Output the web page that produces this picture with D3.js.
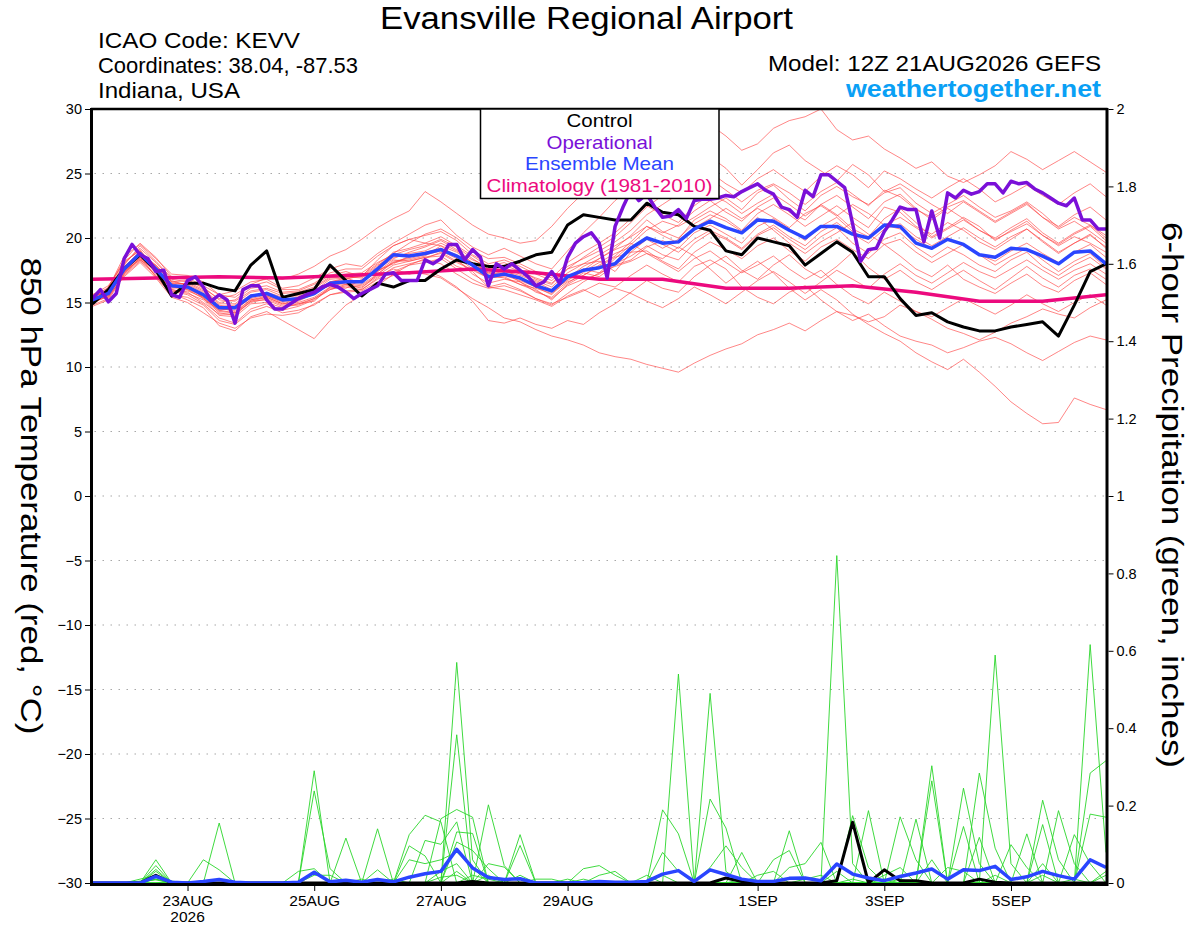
<!DOCTYPE html>
<html><head><meta charset="utf-8">
<script src="https://cdn.jsdelivr.net/npm/d3@7"></script>
<style>body{margin:0;background:#fff}svg{display:block;font-family:"Liberation Sans",Arial,Helvetica,sans-serif}</style>
</head><body><svg id="c" width="1200" height="927"></svg>
<script>
// ---------------- DATA ----------------
const startTimeUTC = Date.UTC(2026, 7, 21, 12); // 12Z 21AUG2026
const stepHours = 6;      // ensemble / control / mean step
const opStepHours = 3;    // operational step
const climStepHours = 24; // climatology step

const tempTicks = [-30,-25,-20,-15,-10,-5,0,5,10,15,20,25,30];
const precipTicks = [0,0.2,0.4,0.6,0.8,1,1.2,1.4,1.6,1.8,2];
const precipTickLabels = ["0","0.2","0.4","0.6","0.8","1","1.2","1.4","1.6","1.8","2"];
const dateTickDays = ["2026-08-23","2026-08-25","2026-08-27","2026-08-29","2026-09-01","2026-09-03","2026-09-05"];
const dateTickLabels = ["23AUG","25AUG","27AUG","29AUG","1SEP","3SEP","5SEP"];

const controlTemp = [
 14.9,16.0,17.6,18.7,17.5,15.5,16.5,16.5,16.1,15.9,17.9,19.0,15.4,
 15.7,16.0,17.9,16.7,15.5,16.5,16.2,16.7,16.7,17.6,18.3,18.0,17.8,
 17.8,18.2,18.7,18.9,21.0,21.8,21.6,21.4,21.4,22.7,22.0,21.8,20.9,
 20.6,19.0,18.7,20.0,19.7,19.4,17.9,18.8,19.7,18.9,17.0,17.0,15.3,
 14.0,14.2,13.5,13.1,12.8,12.8,13.1,13.3,13.5,12.4,14.8,17.4,18.0];

const meanTemp = [
 15.2,15.7,17.6,18.8,17.6,16.3,16.2,15.6,14.6,14.6,15.5,15.7,15.2,
 15.3,15.7,16.5,16.6,16.6,17.6,18.7,18.6,18.8,19.1,18.6,17.9,17.0,
 17.2,16.9,16.3,15.9,17.0,17.5,17.7,18.0,19.2,20.0,19.6,19.7,20.7,
 21.3,20.8,20.4,21.4,21.3,20.6,20.0,20.9,20.9,20.3,20.0,21.0,20.9,
 19.6,19.2,19.9,19.5,18.7,18.5,19.2,19.1,18.6,18.0,18.9,19.0,18.0];

// operational, 3-hourly
const operationalTemp = [
 15.3,16.0,15.05,15.7,18.4,19.5,18.7,18.4,17.4,17.5,15.6,15.4,16.7,17.0,16.2,15.1,
 15.6,15.2,13.4,16.0,16.3,16.3,15.2,14.5,14.5,14.9,15.3,15.6,15.8,16.2,16.4,16.2,
 15.8,15.3,15.7,16.0,16.3,17.2,17.3,16.7,16.7,16.7,18.3,18.0,18.4,19.5,19.5,18.3,
 19.1,18.5,16.3,18.0,17.6,18.0,17.5,17.0,16.3,16.6,17.4,16.5,18.5,19.6,20.1,20.4,
 19.6,16.9,20.9,22.4,23.7,22.9,23.4,22.4,21.6,21.7,22.2,21.5,22.9,23.0,23.0,23.1,
 23.3,23.2,23.6,23.9,24.2,23.7,23.4,22.4,22.2,21.6,23.7,23.2,24.9,24.9,24.4,23.9,
 21.1,18.2,19.1,19.2,20.5,21.4,22.4,22.2,22.2,19.7,22.1,20.0,23.5,23.1,23.7,23.4,
 23.6,24.2,24.2,23.5,24.4,24.2,24.3,23.8,23.5,23.1,22.7,22.5,23.1,21.4,21.4,20.7,
 20.7];

// climatology (1981-2010), daily
const climTemp = [16.8,16.9,17.0,16.9,17.1,17.3,17.6,17.3,16.8,16.8,16.1,16.1,16.3,15.8,15.1,15.1,15.6];

const memberTemp = [
 [15.0,15.9,17.9,19.4,18.2,16.9,16.8,16.1,15.3,15.6,16.4,16.9,16.8,
  17.2,17.8,18.6,19.1,19.9,20.8,21.5,22.1,23.6,22.8,21.9,21.0,20.3,
  20.0,19.6,19.8,20.9,22.3,23.5,24.6,25.8,26.9,27.6,27.0,26.1,27.4,
  28.8,27.9,26.8,27.3,28.5,29.1,29.4,30.0,28.4,27.6,27.9,26.9,26.2,
  25.4,25.9,24.8,24.3,24.9,25.6,26.7,26.1,25.3,26.0,26.7,25.9,25.1],
 [15.4,15.5,17.0,18.1,16.9,15.4,15.0,14.2,13.4,13.0,13.8,14.1,14.0,
  14.2,14.9,15.6,15.8,15.9,16.6,17.1,17.4,17.2,16.9,16.1,15.3,14.6,
  13.8,13.5,12.9,12.4,12.1,11.7,11.1,10.8,10.6,10.2,9.9,9.6,10.3,
  10.9,11.4,11.8,12.5,12.9,13.4,12.8,13.6,14.3,14.0,13.5,13.9,14.8,
  14.3,13.7,13.0,12.6,12.1,12.7,13.4,13.9,14.5,14.1,13.8,14.6,15.2],
 [14.8,15.3,17.2,18.5,17.9,16.6,16.4,15.3,14.2,14.0,15.1,15.2,14.7,
  14.8,15.3,16.0,16.4,16.1,17.2,18.1,18.3,18.6,19.4,18.9,18.1,17.3,
  17.6,16.8,16.2,15.6,16.9,17.8,18.4,19.1,19.6,18.8,18.4,19.3,18.6,
  17.6,16.5,17.4,18.2,17.3,16.1,15.2,16.0,15.2,14.1,13.3,12.6,12.0,
  11.1,10.4,9.8,10.6,9.6,8.5,7.3,6.4,5.6,5.7,7.6,7.1,6.7],
 [15.6,16.1,18.2,19.0,17.4,16.0,15.7,15.2,14.0,13.9,14.9,15.0,14.6,
  14.9,15.1,16.2,16.1,16.8,17.4,18.3,18.2,18.5,18.6,17.8,17.4,16.2,
  16.5,16.0,15.3,14.9,15.4,15.9,16.5,16.2,17.1,17.9,17.2,16.6,17.8,
  18.3,17.6,16.2,15.4,14.9,15.8,16.3,15.2,14.3,13.6,14.1,13.2,12.4,
  12.0,11.7,11.1,11.5,12.0,12.3,11.8,11.1,10.5,11.2,11.9,12.4,12.1],
 [15.1,15.4,17.5,18.6,17.0,15.7,15.2,14.6,13.2,12.8,13.9,14.3,13.6,
  12.9,12.2,13.6,14.8,15.6,16.3,17.2,17.9,18.4,18.9,18.2,17.5,17.9,
  17.3,16.6,16.0,15.2,16.4,17.1,17.9,18.6,19.7,20.9,20.4,21.0,22.1,
  22.9,22.0,21.3,22.4,23.1,22.0,21.4,22.6,21.8,20.7,20.1,21.5,22.3,
  21.2,20.1,20.8,21.6,20.9,19.8,20.6,21.3,20.2,19.4,20.1,19.6,18.9],
 [15.3,16.0,18.0,19.2,18.1,16.8,16.6,16.0,15.0,15.2,16.1,16.3,15.8,
  15.9,16.4,17.1,17.4,17.0,18.3,19.4,19.9,19.6,20.1,19.4,18.6,17.8,
  18.1,17.5,16.8,16.4,17.6,18.0,18.2,17.4,18.9,19.9,19.2,19.9,21.4,
  22.1,21.5,20.6,21.9,22.6,21.8,20.9,21.7,22.5,21.6,20.8,22.4,22.0,
  20.9,20.3,21.2,20.6,19.7,19.1,19.9,20.7,19.8,18.9,19.6,20.2,19.3],
 [14.9,15.6,17.3,18.4,17.7,16.5,16.4,15.8,14.8,14.5,15.3,15.6,15.1,
  15.4,15.9,16.8,16.9,16.5,17.6,18.4,18.9,19.3,19.8,19.1,18.0,17.2,
  17.4,17.1,16.6,16.0,17.0,17.6,17.3,18.4,19.5,20.6,21.3,20.9,21.6,
  22.4,23.1,22.2,23.5,24.1,23.0,22.1,23.3,24.0,23.2,22.6,23.5,23.9,
  22.7,21.9,22.6,23.3,22.4,21.6,22.1,22.8,21.9,20.8,21.6,21.0,20.2],
 [15.5,15.8,17.4,18.3,17.2,15.9,15.6,14.9,13.8,13.4,14.5,14.9,14.4,
  14.7,15.2,16.0,16.3,16.2,17.0,17.6,17.2,17.5,17.0,16.2,15.1,13.6,
  13.4,13.8,13.3,13.0,13.6,13.3,14.2,14.9,15.8,16.7,16.1,15.8,17.0,
  17.9,18.6,17.5,16.8,17.9,18.7,17.6,16.9,17.8,18.9,17.7,16.8,17.5,
  16.6,16.0,16.8,17.5,16.7,16.0,16.9,17.8,16.9,16.2,17.1,17.6,16.8],
 [15.2,16.2,18.3,19.6,18.5,17.0,16.9,16.3,15.6,15.9,16.6,16.8,16.1,
  16.3,16.9,17.6,18.0,17.8,18.8,19.6,20.3,21.0,21.4,20.2,19.3,18.7,
  19.2,18.6,18.0,17.6,19.0,20.4,21.6,22.9,23.9,24.8,25.9,26.6,25.8,
  25.1,24.2,23.5,24.6,25.3,24.4,23.6,24.8,25.6,24.9,23.9,25.2,24.6,
  23.8,23.1,23.9,24.6,23.8,22.8,23.4,24.1,23.3,22.6,23.5,24.2,23.2],
 [15.0,15.5,17.7,19.0,17.8,16.2,16.0,15.5,14.5,14.4,15.4,15.8,15.4,
  15.6,16.1,16.9,17.0,16.9,17.8,18.9,19.2,19.6,19.4,18.5,17.6,16.9,
  17.0,16.4,15.9,15.3,16.3,16.8,17.2,18.0,18.6,19.4,18.7,18.3,19.6,
  20.4,19.9,19.1,20.2,20.8,19.9,19.1,20.1,20.8,19.6,18.8,19.9,20.4,
  19.3,18.5,19.3,18.7,17.9,17.4,18.3,18.9,17.8,17.1,17.9,18.5,17.6],
 [15.4,16.0,17.8,18.6,17.3,16.1,16.2,15.4,14.3,14.2,15.2,15.4,14.9,
  15.0,15.4,16.2,16.6,16.7,17.5,18.0,18.6,18.8,19.2,18.6,17.8,17.3,
  17.2,16.9,16.4,15.9,16.7,17.5,18.4,19.2,20.2,21.4,20.5,20.0,21.1,
  21.8,21.3,20.5,21.6,20.6,19.6,18.8,19.7,20.4,21.2,20.3,19.5,18.6,
  17.6,17.0,17.9,16.8,16.2,15.7,16.5,17.2,16.3,15.8,16.7,17.3,16.4],
 [15.1,15.8,17.6,18.9,17.6,16.4,16.5,15.9,14.9,14.9,15.8,16.0,15.5,
  15.5,15.9,16.6,16.9,17.0,17.9,18.5,18.8,19.0,19.6,19.0,18.3,17.8,
  17.9,17.4,16.9,16.5,17.6,18.5,19.3,20.1,21.2,22.4,23.3,24.6,25.5,
  26.3,25.4,24.1,25.3,26.6,27.2,26.0,25.2,24.4,25.7,24.9,23.6,24.2,
  23.4,22.6,21.9,22.8,22.0,21.2,21.9,22.6,21.6,20.7,21.3,20.5,19.6],
 [15.3,15.6,17.3,18.7,17.8,16.7,16.3,15.7,14.7,14.8,15.6,15.5,15.0,
  15.2,15.6,16.4,16.5,16.4,17.2,18.2,18.4,18.7,19.0,18.4,17.2,16.5,
  16.8,16.6,15.8,15.4,16.5,17.3,17.0,17.9,18.3,19.3,19.8,19.2,20.4,
  21.0,20.3,19.6,20.9,21.5,20.7,19.8,20.9,21.6,20.5,19.9,21.0,20.7,
  19.9,19.2,20.0,19.4,18.7,18.2,19.0,19.6,18.8,18.1,18.9,19.5,18.5],
 [14.7,15.2,17.1,18.2,17.1,15.8,15.9,15.4,14.4,14.2,15.0,15.3,14.8,
  14.9,15.3,16.1,16.2,16.0,16.8,17.4,17.9,18.1,18.4,17.6,16.8,16.2,
  16.0,15.6,15.2,14.7,15.5,16.0,15.4,16.1,15.7,15.1,14.6,15.3,16.2,
  15.6,14.9,15.8,16.7,17.4,16.6,15.7,16.6,17.5,16.8,16.1,17.2,18.0,
  17.1,16.5,17.3,18.1,17.4,16.9,17.6,18.3,17.5,16.8,17.5,18.0,17.2],
 [15.6,16.3,18.1,19.1,17.5,16.0,15.8,15.0,14.1,14.1,15.1,15.4,14.9,
  15.1,15.7,16.6,16.8,17.1,18.0,18.8,19.6,20.3,20.7,20.0,19.0,18.4,
  18.5,18.0,17.4,16.9,18.1,18.9,19.6,20.4,21.5,22.5,21.8,21.2,22.5,
  23.4,22.8,21.9,22.7,23.4,22.6,21.7,22.6,23.3,22.4,21.5,22.8,23.4,
  22.3,21.4,22.3,21.5,20.6,20.0,20.8,21.5,20.4,19.6,20.4,21.0,20.0],
 [15.2,15.6,17.5,18.5,17.4,16.2,16.1,15.5,14.6,14.3,15.2,15.5,15.1,
  15.3,15.8,16.5,16.7,16.6,17.4,18.1,18.5,18.9,19.2,18.7,17.9,17.1,
  16.9,16.4,16.1,15.7,16.6,17.1,17.8,18.5,18.9,19.0,18.2,17.6,18.9,
  19.7,19.1,18.4,19.4,20.0,19.0,18.2,19.3,19.9,19.1,18.4,19.5,19.9,
  18.9,18.1,18.8,19.5,18.7,17.9,18.6,19.2,18.3,17.4,18.2,18.8,17.7],
 [14.9,16.1,18.6,19.5,18.4,17.2,17.1,16.6,15.6,15.4,16.3,16.6,16.0,
  16.0,16.5,17.3,17.6,17.6,18.6,19.4,19.9,20.2,20.5,19.8,18.7,18.0,
  18.3,17.8,17.2,16.7,17.8,18.4,19.0,19.7,20.6,21.8,22.6,23.4,24.0,
  24.6,23.7,22.8,23.7,24.2,23.5,22.6,23.6,24.3,23.4,22.5,23.7,23.2,
  22.2,21.6,22.4,22.9,22.1,21.3,22.0,22.7,21.6,20.9,21.8,22.4,21.4],
 [15.5,15.9,17.4,18.4,17.0,15.6,15.4,14.8,13.6,13.3,14.3,14.7,14.2,
  14.4,14.8,15.6,15.9,16.0,16.9,17.7,18.0,18.3,18.0,17.2,16.5,16.1,
  16.3,15.9,15.3,14.8,15.7,16.6,17.3,17.8,18.2,18.8,18.1,17.4,18.4,
  19.0,18.1,17.3,17.9,18.6,17.6,16.8,17.5,16.4,15.5,14.9,15.8,15.1,
  14.3,13.9,14.6,15.3,14.7,14.1,14.8,15.6,14.9,14.3,15.0,15.6,14.8],
 [15.0,15.7,17.8,18.9,17.9,16.6,16.7,16.2,15.2,15.1,15.9,16.1,15.7,
  15.8,16.2,17.0,17.2,17.3,18.1,18.7,19.1,19.4,19.9,19.3,18.4,17.6,
  17.7,17.2,16.7,16.2,17.3,18.0,18.7,19.4,20.1,20.9,20.2,19.6,20.8,
  21.5,22.3,21.5,22.3,21.6,20.8,21.9,22.5,21.7,22.6,21.9,21.0,21.6,
  20.8,20.0,20.7,21.4,20.6,19.9,20.5,21.1,20.2,19.5,20.3,20.9,19.8],
 [15.3,15.4,17.2,18.3,17.6,16.5,16.0,15.3,14.4,14.6,15.5,15.6,15.2,
  15.4,15.8,16.3,16.4,16.3,17.1,17.9,18.2,18.5,18.8,18.1,17.5,16.9,
  17.1,16.7,16.2,15.8,16.8,17.4,18.1,18.8,19.3,20.1,19.5,18.9,19.9,
  20.6,20.0,19.2,20.3,21.0,20.1,19.4,20.5,21.2,20.3,19.6,20.7,21.1,
  20.1,19.4,20.1,20.8,20.0,19.3,20.1,20.7,19.7,18.8,19.6,20.3,19.2]
];

const controlPrecip = [
 0,0,0,0,0.02,0,0,0,0,0,0,0,0,
 0,0,0,0,0,0,0,0,0,0,0,0.004,0,
 0,0,0,0,0,0,0,0,0,0,0,0,0,
 0,0.013,0.004,0,0,0,0,0,0.006,0.157,0,0.034,0.006,
 0.006,0,0,0,0.010,0.002,0,0,0,0,0,0,0];

const meanPrecip = [
 0,0,0,0,0.017,0.002,0,0.004,0.009,0.002,0,0,0,
 0.002,0.028,0.003,0.007,0.002,0.009,0.003,0.015,0.024,0.030,0.087,0.039,0.014,
 0.009,0.011,0,0,0,0.001,0.004,0.002,0.002,0.004,0.023,0.032,0.004,
 0.034,0.022,0.010,0.004,0.004,0.012,0.013,0.006,0.049,0.023,0.013,0.006,0.017,
 0.026,0.036,0.010,0.034,0.032,0.043,0.009,0.016,0.030,0.019,0.010,0.060,0.040];

const memberPrecip = [
 [0,0,0,0,.06,0,0,0,0,0,0,0,0,
  0,.29,0,0,0,0,0,0,0,0,.57,.06,0,
  0,0,0,0,0,0,0,0,0,0,0,.54,0,
  0,0,0,0,0,0,0,0,.03,0,0,0,0,
  0,.06,0,0,0,0,0,0,0,0,0,.616,.079],
 [0,0,0,0,.045,0,0,0,0,0,0,0,0,
  0,.238,.037,0,0,0,0,0,0,0,.383,0,0,
  0,0,0,0,0,0,0,0,0,0,0,0,0,
  .49,.03,0,0,0,0,0,0,0,0,0,0,0,
  0,0,0,0,0,.589,.05,0,0,0,0,0,0],
 [0,0,0,0,.035,0,0,0,.155,0,0,0,0,
  0,0,0,0,0,0,0,0,0,.166,.19,.17,0,
  0,0,0,0,0,0,0,0,0,0,0,0,0,
  0,0,0,0,0,0,0,0,.846,.05,0,0,0,
  0,0,0,0,0,0,0,0,.05,0,0,.284,.316],
 [0,0,0,0,.03,0,0,.06,.034,0,0,0,0,
  0,0,0,0,0,0,0,.125,.175,.158,0,0,.202,
  .045,0,0,0,0,0,0,0,0,0,.189,.127,0,
  0,0,0,0,0,0,0,0,0,0,0,0,0,
  0,.303,0,0,0,0,0,0,0,0,0,0,0],
 [0,0,0,0,.02,0,0,0,0,0,0,0,0,
  0,0,0,.116,0,0,0,0,.11,.10,.158,0,0,
  0,0,0,0,0,0,0,0,0,0,0,0,0,
  .217,.142,0,0,0,0,0,0,0,0,0,0,0,
  0,0,0,.245,.05,0,0,0,0,0,0,.178,.17],
 [0,0,0,0,.015,0,0,0,0,0,0,0,0,
  .03,.037,0,0,0,.14,0,0,0,0,.132,.128,0,
  0,.125,0,0,0,0,0,0,0,0,0,0,0,
  0,0,0,0,0,.135,0,0,0,.174,.04,0,0,
  0,0,0,0,0,0,0,0,.214,.06,0,0,0],
 [0,0,0,0,.01,0,0,0,0,0,0,0,0,
  0,0,0,0,0,.034,0,.096,.07,0,.106,.084,.037,
  0,.097,0,0,0,0,0,0,0,0,.079,.03,0,
  0,0,0,0,0,0,0,0,0,0,.187,0,0,
  0,.264,0,0,.284,.09,0,0,0,0,0,0,0],
 [0,0,0,.01,.02,0,0,0,0,0,0,0,0,
  0,0,0,0,0,0,0,.06,.05,.06,.08,.04,0,
  0,0,0,0,0,.037,.045,.02,0,0,0,0,0,
  0,0,.079,0,0,0,0,0,0,0,0,0,.171,
  .06,0,0,.146,0,0,0,0,.151,0,0,0,0],
 [0,0,0,0,0,0,0,0,0,0,0,0,0,
  0,.02,.02,0,0,0,0,0,0,.03,.05,0,.05,
  .041,0,0,0,0,0,.02,.03,0,0,0,0,0,
  0,0,0,0,.06,.084,0,0,0,0,0,0,0,
  .165,0,0,0,0,0,0,.127,0,.187,.05,0,0],
 [0,0,0,0,0,0,0,0,0,0,0,0,0,
  0,0,0,0,0,0,0,0,0,0,.03,0,.02,
  0,.02,0,0,0,0,0,0,0,0,.02,0,0,
  .04,.096,.04,0,0,.04,.05,.105,0,0,0,0,0,
  0,0,0,0,.118,0,0,0,0,0,.125,.05,0],
 [0,0,0,0,0,0,0,0,0,0,0,0,0,
  0,0,0,0,.01,0,.01,0,0,0,0,0,0,
  0,0,.01,.01,0,0,0,0,0,.02,0,0,0,
  0,0,0,.02,.03,0,0,0,0,0,0,.02,.04,
  0,0,.04,.03,0,0,.099,.04,0,0,0,0,.03],
 [0,0,0,0,0,.005,0,0,0,0,0,0,0,
  0,0,0,0,0,0,0,0,0,0,0,0,0,
  0,0,0,0,.01,0,0,0,0,0,0,0,0,
  0,0,0,0,0,0,.01,.02,0,0,0,.01,0,
  0,0,0,0,0,.02,0,0,0,0,0,0,.02],
 [0,0,0,0,.01,0,0,0,0,0,0,0,0,
  0,0,0,0,0,0,0,0,0,0,0,.02,.01,
  0,0,0,0,0,.01,0,0,0,0,0,0,0,
  0,0,.01,0,0,0,0,0,0,0,0,0,.01,
  0,0,0,0,0,0,0,0,.02,0,0,0,0],
 [0,0,0,.005,.008,0,0,0,0,0,0,0,0,
  0,0,0,0,0,0,0,0,0,.015,.02,0,0,
  0,0,0,0,0,0,0,0,0,0,0,0,0,
  0,0,0,0,0,0,0,0,0,.01,0,0,0,
  0,0,0,0,0,0,0,0,0,0,.01,0,0]
];

const titleText = "Evansville Regional Airport";
const infoLines = ["ICAO Code: KEVV", "Coordinates: 38.04, -87.53", "Indiana, USA"];
const infoWidths = [202, 260, 142];
const modelText = "Model: 12Z 21AUG2026 GEFS";
const siteText = "weathertogether.net";
const legendItems = [
  {label: "Control", color: "#000000", w: 66},
  {label: "Operational", color: "#7a10d8", w: 106},
  {label: "Ensemble Mean", color: "#2a45ff", w: 149},
  {label: "Climatology (1981-2010)", color: "#ec0a7e", w: 226}
];

// ---------------- DRAW ----------------
const svg = d3.select("#c");
const L = 92.5, R = 1106, T = 109, B = 883;
const HOUR = 3600000;
const t = (i, step) => new Date(startTimeUTC + i * step * HOUR);
const endTime = t(controlTemp.length - 1, stepHours);

const x = d3.scaleUtc().domain([new Date(startTimeUTC), endTime]).range([L, R]);
const yT = d3.scaleLinear().domain([-30, 30]).range([B, T]);
const yP = d3.scaleLinear().domain([0, 2]).range([B, T]);

svg.append("rect").attr("width", 1200).attr("height", 927).attr("fill", "#fff");

// dotted grid
svg.append("g").selectAll("line").data(tempTicks.filter(v => v > -30 && v < 30)).join("line")
  .attr("x1", L + 2).attr("x2", R - 2).attr("y1", d => yT(d)).attr("y2", d => yT(d))
  .attr("stroke", "#a8a8a8").attr("stroke-width", 1.2).attr("stroke-dasharray", "1.5,6.5");

svg.append("clipPath").attr("id", "clip").append("rect")
  .attr("x", L).attr("y", T).attr("width", R - L).attr("height", B - T);
const plot = svg.append("g").attr("clip-path", "url(#clip)");

const lineT = step => d3.line().x((d, i) => x(t(i, step))).y(d => yT(d));
const lineP = d3.line().x((d, i) => x(t(i, stepHours))).y(d => yP(d));

// ensemble precip (green)
plot.append("g").selectAll("path").data(memberPrecip).join("path")
  .attr("d", lineP).attr("fill", "none").attr("stroke", "#2ad62a").attr("stroke-width", 0.9);
// ensemble temps (red)
plot.append("g").selectAll("path").data(memberTemp).join("path")
  .attr("d", lineT(stepHours)).attr("fill", "none").attr("stroke", "#ff4040")
  .attr("stroke-width", 0.8).attr("stroke-opacity", 0.8);

// climatology
plot.append("path").datum(climTemp).attr("d", lineT(climStepHours))
  .attr("fill", "none").attr("stroke", legendItems[3].color).attr("stroke-width", 3.5);
// control
plot.append("path").datum(controlPrecip).attr("d", lineP)
  .attr("fill", "none").attr("stroke", "#000").attr("stroke-width", 3).attr("stroke-linejoin", "round");
plot.append("path").datum(controlTemp).attr("d", lineT(stepHours))
  .attr("fill", "none").attr("stroke", "#000").attr("stroke-width", 3).attr("stroke-linejoin", "round");
// ensemble mean
plot.append("path").datum(meanPrecip).attr("d", lineP)
  .attr("fill", "none").attr("stroke", legendItems[2].color).attr("stroke-width", 3.5).attr("stroke-linejoin", "round");
plot.append("path").datum(meanTemp).attr("d", lineT(stepHours))
  .attr("fill", "none").attr("stroke", legendItems[2].color).attr("stroke-width", 3.5).attr("stroke-linejoin", "round");
// operational
plot.append("path").datum(operationalTemp).attr("d", lineT(opStepHours))
  .attr("fill", "none").attr("stroke", legendItems[1].color).attr("stroke-width", 3.5).attr("stroke-linejoin", "round");

// frame
const frame = svg.append("g").attr("stroke", "#000").attr("fill", "none");
frame.append("line").attr("x1", L - 1.5).attr("x2", R + 1.5).attr("y1", T).attr("y2", T).attr("stroke-width", 2.5);
frame.append("line").attr("x1", L - 1.5).attr("x2", R + 1.5).attr("y1", B + 1.5).attr("y2", B + 1.5).attr("stroke-width", 3);
frame.append("line").attr("x1", L - 1).attr("x2", L - 1).attr("y1", T - 1).attr("y2", B + 3).attr("stroke-width", 3);
frame.append("line").attr("x1", R + 1).attr("x2", R + 1).attr("y1", T - 1).attr("y2", B + 3).attr("stroke-width", 3);

// axes
const styleAxis = g => {
  g.select(".domain").remove();
  g.selectAll(".tick line").attr("stroke", "#000").attr("stroke-width", 1);
  g.selectAll(".tick text").attr("fill", "#000").attr("font-family", '"Liberation Sans",Arial,sans-serif');
};
svg.append("g").attr("transform", `translate(${L - 2.5},0)`)
  .call(d3.axisLeft(yT).tickValues(tempTicks).tickSize(5).tickPadding(3).tickFormat(d3.format("d")))
  .call(styleAxis).selectAll(".tick text").attr("font-size", 14.5);
svg.append("g").attr("transform", `translate(${R + 2.5},0)`)
  .call(d3.axisRight(yP).tickValues(precipTicks).tickSize(5).tickPadding(3).tickFormat((d, i) => precipTickLabels[i]))
  .call(styleAxis).selectAll(".tick text").attr("font-size", 14.5);
const dateTicks = dateTickDays.map(s => new Date(s + "T00:00:00Z"));
const xAxisG = svg.append("g").attr("transform", `translate(0,${B + 3})`)
  .call(d3.axisBottom(x).tickValues(dateTicks).tickSize(5).tickPadding(4).tickFormat((d, i) => dateTickLabels[i]))
  .call(styleAxis);
xAxisG.selectAll(".tick text").attr("font-size", 15.5);
xAxisG.append("text").attr("x", x(dateTicks[0])).attr("y", 36).attr("text-anchor", "middle")
  .attr("font-size", 15.5).attr("fill", "#000").text("2026");

// legend
const lg = svg.append("g");
lg.append("rect").attr("x", 480.5).attr("y", T).attr("width", 238.5).attr("height", 89.5)
  .attr("fill", "#fff").attr("stroke", "#000").attr("stroke-width", 1.5);
lg.selectAll("text").data(legendItems).join("text")
  .attr("x", 599.5).attr("y", (d, i) => 127 + i * 21.6).attr("text-anchor", "middle")
  .attr("font-size", 18.5).attr("textLength", d => d.w).attr("lengthAdjust", "spacingAndGlyphs")
  .attr("fill", d => d.color).text(d => d.label);

// titles
svg.append("text").attr("x", 586.5).attr("y", 29).attr("text-anchor", "middle")
  .attr("font-size", 31).attr("textLength", 413).attr("lengthAdjust", "spacingAndGlyphs")
  .attr("fill", "#000").text(titleText);
svg.selectAll(".info").data(infoLines).join("text").attr("class", "info")
  .attr("x", 98).attr("y", (d, i) => 48 + i * 25).attr("font-size", 21.5)
  .attr("textLength", (d, i) => infoWidths[i]).attr("lengthAdjust", "spacingAndGlyphs")
  .attr("fill", "#000").text(d => d);
svg.append("text").attr("x", 1101).attr("y", 71).attr("text-anchor", "end")
  .attr("font-size", 21.5).attr("textLength", 333).attr("lengthAdjust", "spacingAndGlyphs")
  .attr("fill", "#000").text(modelText);
svg.append("text").attr("x", 1101).attr("y", 97).attr("text-anchor", "end")
  .attr("font-size", 24).attr("font-weight", "bold").attr("textLength", 255).attr("lengthAdjust", "spacingAndGlyphs")
  .attr("fill", "#0aa0f5").text(siteText);

// axis titles (both read top-to-bottom)
svg.append("text").attr("transform", "translate(21,496) rotate(90)").attr("text-anchor", "middle")
  .attr("font-size", 30).attr("textLength", 477).attr("lengthAdjust", "spacingAndGlyphs")
  .attr("fill", "#000").text("850 hPa Temperature (red, °C)");
svg.append("text").attr("transform", "translate(1162,495) rotate(90)").attr("text-anchor", "middle")
  .attr("font-size", 30).attr("textLength", 546).attr("lengthAdjust", "spacingAndGlyphs")
  .attr("fill", "#000").text("6-hour Precipitation (green, inches)");
</script>
</body></html>
